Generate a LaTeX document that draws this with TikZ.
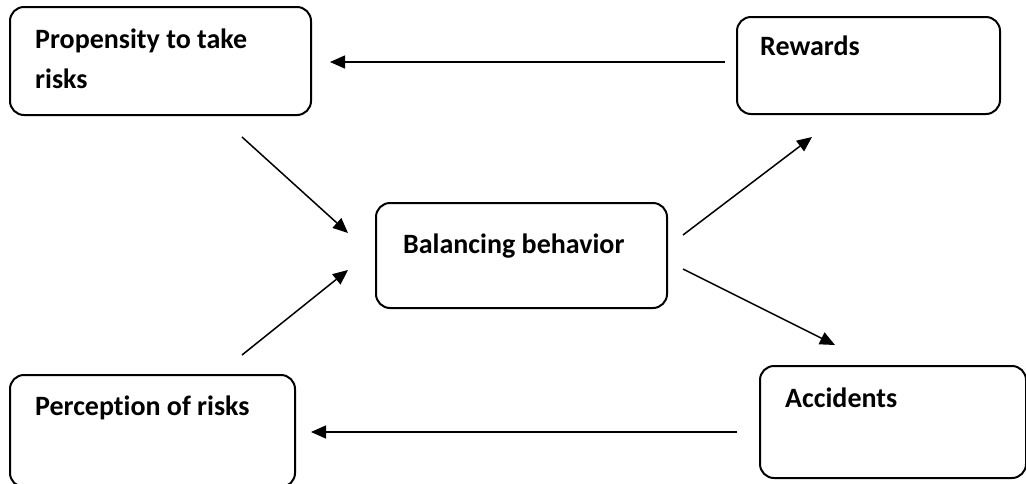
\documentclass[tikz,border=0pt]{standalone}
\usepackage{fontspec}
\setmainfont{Carlito}[Ligatures=NoCommon]
\usetikzlibrary{arrows.meta}
\begin{document}
\begin{tikzpicture}[x=1pt,y=-1pt,
  box/.style={draw=black,line width=2pt,rounded corners=14pt,inner sep=0pt,anchor=north west},
  lbl/.style={anchor=base west,inner sep=0pt,font=\fontsize{28}{40}\selectfont\bfseries,align=left},
  conn/.style={line width=1.5pt,-{Triangle[length=15pt,width=13pt]}}]
\useasboundingbox (0,0) rectangle (1026,483);
% boxes
\node[box,minimum width=301pt,minimum height=108pt] (prop) at (9,6) {};
\node[box,minimum width=263pt,minimum height=97pt] (rew) at (736,16) {};
\node[box,minimum width=291pt,minimum height=105pt] (bal) at (375,202) {};
\node[box,minimum width=285pt,minimum height=112pt] (perc) at (9,374) {};
\node[box,minimum width=266pt,minimum height=112pt] (acc) at (759,365) {};
% labels (base anchor = baseline of the last line)
\node[lbl] (propL) at (35,88) {Propensity to take\\risks};
\node[lbl] (rewL) at (760,55) {Rewards};
\node[lbl] (balL) at (403,253) {Balancing behavior};
\node[lbl] (percL) at (35,415) {Perception of risks};
\node[lbl] (accL) at (785,407) {Accidents};
% connector end points
\coordinate (r1) at (725,62);
\coordinate (p1) at (330,62);
\coordinate (p2) at (242,137);
\coordinate (b1) at (348,233);
\coordinate (q1) at (242,355);
\coordinate (b2) at (348,270);
\coordinate (b3) at (683,235);
\coordinate (r2) at (812,137);
\coordinate (b4) at (683,269);
\coordinate (a1) at (835,345);
\coordinate (a2) at (737,432);
\coordinate (q2) at (311,432);
% connectors
\draw[conn] (r1) -- (p1);
\draw[conn] (p2) -- (b1);
\draw[conn] (q1) -- (b2);
\draw[conn] (b3) -- (r2);
\draw[conn] (b4) -- (a1);
\draw[conn] (a2) -- (q2);
\end{tikzpicture}
\end{document}
